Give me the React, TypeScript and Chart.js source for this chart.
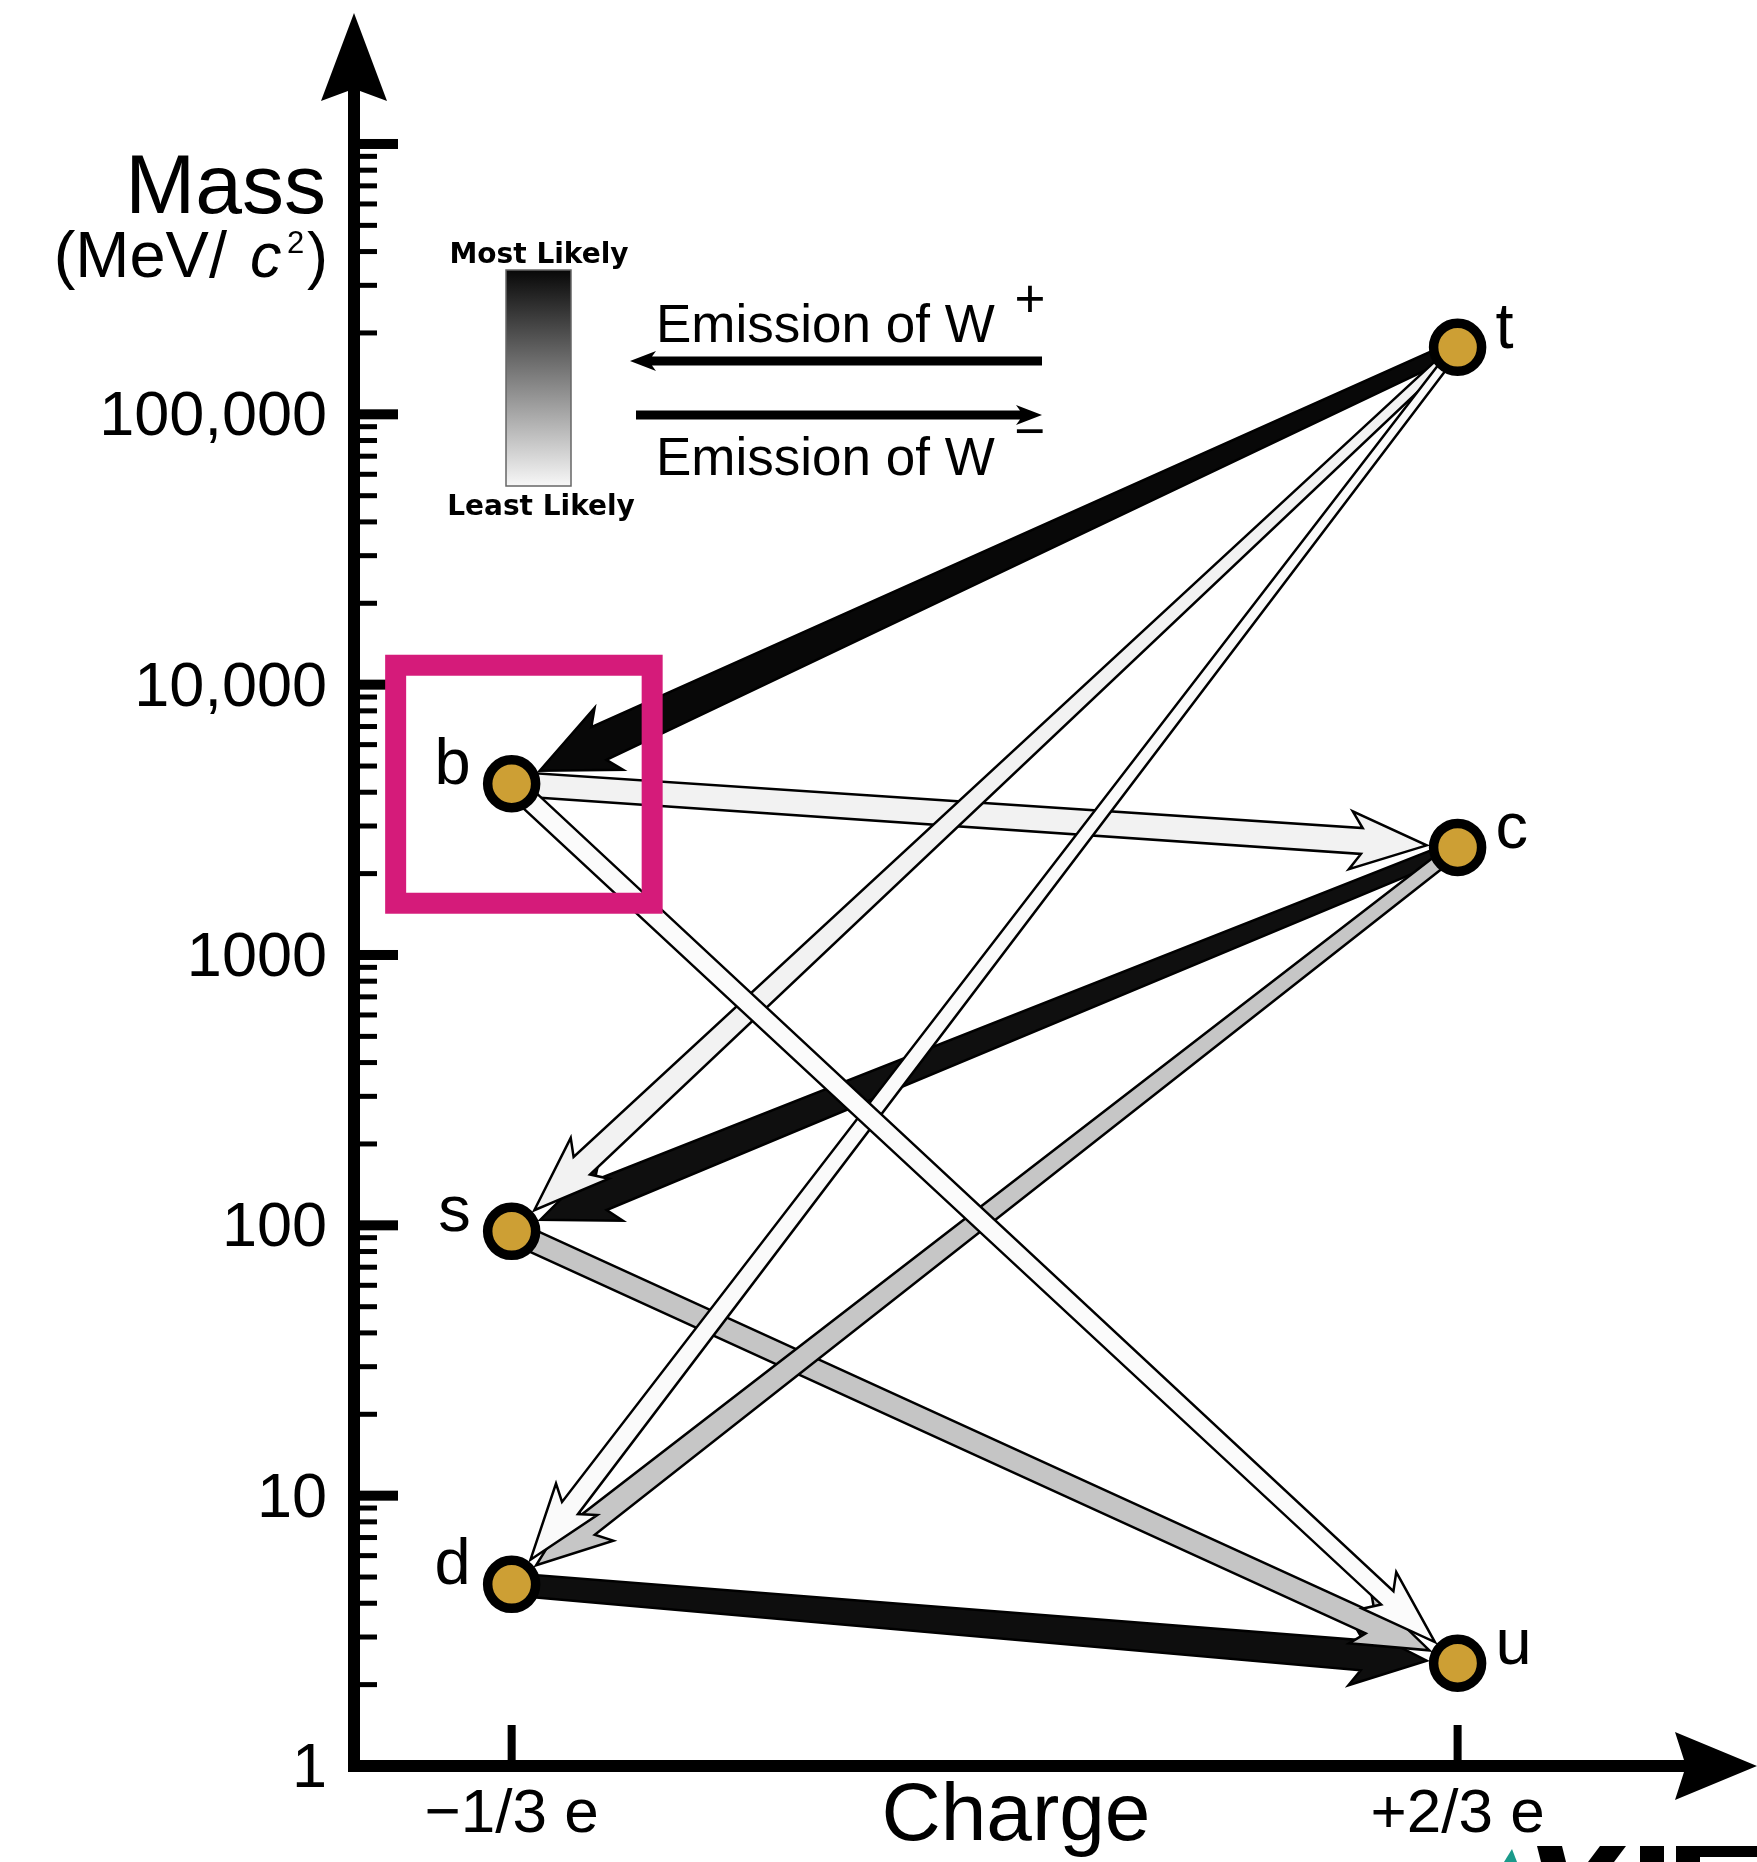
import React, { useEffect, useRef } from 'react';
import { Chart, registerables } from 'chart.js';

Chart.register(...registerables);

// ---------------- data ----------------
const QUARK_NAMES = ['u', 'd', 'c', 's', 't', 'b'];
const QUARK_CHARGE = [2 / 3, -1 / 3, 2 / 3, -1 / 3, 2 / 3, -1 / 3];
const QUARK_MASS = [2.4, 4.7, 2500, 95, 177000, 4300]; // MeV/c^2 as placed in the picture

// weak transitions (arrow from -> to) and their likelihood (|V_CKM|, drawn as grey level)
const TRANSITION_FROM = ['t', 't', 't', 'c', 'c', 'd', 's', 'b', 'b'];
const TRANSITION_TO = ['b', 's', 'd', 's', 'd', 'u', 'u', 'u', 'c'];
const TRANSITION_LIKELIHOOD = [0.999, 0.04, 0.0086, 0.973, 0.22, 0.974, 0.225, 0.0037, 0.041];

const Y_TICK_VALUES = [1, 10, 100, 1000, 10000, 100000];
const Y_TICK_LABELS = ['1', '10', '100', '1000', '10,000', '100,000'];
const Y_MAJOR_TICKS = [1, 10, 100, 1000, 10000, 100000, 1000000];
const X_TICK_VALUES = [-1 / 3, 2 / 3];
const X_TICK_LABELS = ['\u22121/3 e', '+2/3 e'];

const X_MIN = -0.5;
const X_MAX = 0.98;
const Y_MIN = 1;
const Y_MAX = 3e6;

// ---------------- styling ----------------
const ARROW_W_START = [14, 10, 9, 14, 14, 22, 22, 20, 24];
const ARROW_W_END = [36, 24, 20, 32, 24, 30, 22, 18, 26];
const FONT = '"Liberation Sans", Arial, Helvetica, sans-serif';
const GOLD = '#CD9F34';
const MAGENTA = '#D51B7A';

const greyFor = (p: number) => {
  const v = Math.round(252 - 244 * p);
  return `rgb(${v},${v},${v})`;
};

function drawFatArrow(
  ctx: CanvasRenderingContext2D,
  x0: number, y0: number, x1: number, y1: number,
  w0: number, w1: number, fill: string
) {
  const dx = x1 - x0, dy = y1 - y0;
  const len = Math.hypot(dx, dy);
  const ux = dx / len, uy = dy / len;
  const nx = -uy, ny = ux;
  const tipOff = 31, L = 76, notch = 65, H = w1 / 2 + 16;
  const tx = x1 - ux * tipOff, ty = y1 - uy * tipOff;
  const bx = tx - ux * L, by = ty - uy * L;
  const cx = tx - ux * notch, cy = ty - uy * notch;
  ctx.beginPath();
  ctx.moveTo(x0 + nx * w0 / 2, y0 + ny * w0 / 2);
  ctx.lineTo(cx + nx * w1 / 2, cy + ny * w1 / 2);
  ctx.lineTo(bx + nx * H, by + ny * H);
  ctx.lineTo(tx, ty);
  ctx.lineTo(bx - nx * H, by - ny * H);
  ctx.lineTo(cx - nx * w1 / 2, cy - ny * w1 / 2);
  ctx.lineTo(x0 - nx * w0 / 2, y0 - ny * w0 / 2);
  ctx.closePath();
  ctx.fillStyle = fill;
  ctx.fill();
  ctx.lineWidth = 2.5;
  ctx.lineJoin = 'miter';
  ctx.strokeStyle = '#000';
  ctx.stroke();
}

function drawLegendArrow(ctx: CanvasRenderingContext2D, xStart: number, xTip: number, yc: number, t: number) {
  const dir = xTip > xStart ? 1 : -1;
  ctx.beginPath();
  ctx.moveTo(xStart, yc - t / 2);
  ctx.lineTo(xTip - dir * 22, yc - t / 2);
  ctx.lineTo(xTip - dir * 26, yc - 10);
  ctx.lineTo(xTip, yc);
  ctx.lineTo(xTip - dir * 26, yc + 10);
  ctx.lineTo(xTip - dir * 22, yc + t / 2);
  ctx.lineTo(xStart, yc + t / 2);
  ctx.closePath();
  ctx.fillStyle = '#000';
  ctx.fill();
}

const quarkPixel = (chart: any, name: string) => {
  const i = QUARK_NAMES.indexOf(name);
  return {
    x: chart.scales.x.getPixelForValue(QUARK_CHARGE[i]),
    y: chart.scales.y.getPixelForValue(QUARK_MASS[i]),
  };
};

const diagramPlugin = {
  id: 'quarkDiagram',
  beforeDraw(chart: any) {
    const ctx = chart.ctx;
    ctx.save();
    ctx.fillStyle = '#fff';
    ctx.fillRect(0, 0, chart.width, chart.height);
    ctx.restore();
  },
  beforeDatasetsDraw(chart: any) {
    const ctx: CanvasRenderingContext2D = chart.ctx;
    const xs = chart.scales.x, ys = chart.scales.y;
    const ax = xs.getPixelForValue(X_MIN);
    const ay = ys.getPixelForValue(Y_MIN);
    const top = ys.getPixelForValue(Y_MAX);
    const right = xs.getPixelForValue(X_MAX);
    ctx.save();
    ctx.fillStyle = '#000';

    // y axis
    ctx.fillRect(ax - 6, top + 74, 12, ay + 6 - (top + 74));
    ctx.beginPath();
    ctx.moveTo(ax, top - 2);
    ctx.lineTo(ax + 33, top + 86);
    ctx.lineTo(ax + 6, top + 76);
    ctx.lineTo(ax - 6, top + 76);
    ctx.lineTo(ax - 33, top + 86);
    ctx.closePath();
    ctx.fill();

    // x axis
    ctx.fillRect(ax - 6, ay - 6, right - 68 - (ax - 6), 12);
    ctx.beginPath();
    ctx.moveTo(right + 3, ay);
    ctx.lineTo(right - 79, ay + 34);
    ctx.lineTo(right - 70, ay + 6);
    ctx.lineTo(right - 70, ay - 6);
    ctx.lineTo(right - 79, ay - 34);
    ctx.closePath();
    ctx.fill();

    // y ticks (major + minor), drawn inwards
    Y_MAJOR_TICKS.forEach((v) => {
      const py = ys.getPixelForValue(v);
      ctx.fillRect(ax, py - 5, 44, 10);
    });
    for (let k = 0; k < 6; k++) {
      for (let m = 2; m <= 9; m++) {
        const py = ys.getPixelForValue(m * Math.pow(10, k));
        ctx.fillRect(ax, py - 2.5, 23, 5);
      }
    }
    // y tick labels
    ctx.font = `63px ${FONT}`;
    ctx.textAlign = 'right';
    ctx.textBaseline = 'alphabetic';
    Y_TICK_VALUES.forEach((v, i) => {
      const py = ys.getPixelForValue(v);
      ctx.fillText(Y_TICK_LABELS[i], ax - 27, py + 21);
    });

    // x ticks + labels
    ctx.font = `62px ${FONT}`;
    ctx.textAlign = 'center';
    X_TICK_VALUES.forEach((v, i) => {
      const px = xs.getPixelForValue(v);
      ctx.fillRect(px - 4, ay - 41, 8, 41);
      ctx.fillText(X_TICK_LABELS[i], px, ay + 66);
    });

    // axis titles
    ctx.font = `82px ${FONT}`;
    ctx.textAlign = 'center';
    ctx.fillText('Charge', 1016, ay + 74);

    ctx.font = `84px ${FONT}`;
    ctx.textAlign = 'right';
    ctx.fillText('Mass', 326, 213);
    ctx.font = `65px ${FONT}`;
    ctx.fillText('(MeV/', 227, 277);
    ctx.font = `63px ${FONT}`;
    ctx.fillText(')', 328, 277);
    ctx.textAlign = 'left';
    ctx.font = `italic 63px ${FONT}`;
    ctx.fillText('c', 250, 277);
    ctx.font = `31px ${FONT}`;
    ctx.fillText('2', 287, 253);

    // legend: gradient bar
    const g = ctx.createLinearGradient(0, 270, 0, 486);
    g.addColorStop(0, greyFor(1));
    g.addColorStop(1, greyFor(0.02));
    ctx.fillStyle = g;
    ctx.fillRect(506, 270, 65, 216);
    ctx.strokeStyle = '#666';
    ctx.lineWidth = 1.5;
    ctx.strokeRect(506, 270, 65, 216);
    ctx.fillStyle = '#000';
    ctx.font = `bold 28px "DejaVu Sans", ${FONT}`;
    ctx.textAlign = 'center';
    ctx.fillText('Most Likely', 539, 263);
    ctx.fillText('Least Likely', 541, 515);

    // legend: emission arrows
    ctx.font = `53px ${FONT}`;
    ctx.textAlign = 'left';
    ctx.fillText('Emission of W', 656, 342);
    ctx.fillText('Emission of W', 656, 475);
    ctx.textAlign = 'center';
    ctx.fillText('+', 1030, 317);
    ctx.fillText('\u2212', 1030, 449);
    drawLegendArrow(ctx, 1042, 630, 361, 9);
    drawLegendArrow(ctx, 636, 1042, 415, 9);

    // transition arrows (most likely drawn first)
    const order = TRANSITION_LIKELIHOOD.map((_, i) => i).sort(
      (a, b) => TRANSITION_LIKELIHOOD[b] - TRANSITION_LIKELIHOOD[a]
    );
    order.forEach((i) => {
      const p0 = quarkPixel(chart, TRANSITION_FROM[i]);
      const p1 = quarkPixel(chart, TRANSITION_TO[i]);
      drawFatArrow(ctx, p0.x, p0.y, p1.x, p1.y, ARROW_W_START[i], ARROW_W_END[i], greyFor(TRANSITION_LIKELIHOOD[i]));
    });
    ctx.restore();
  },
  afterDatasetsDraw(chart: any) {
    const ctx: CanvasRenderingContext2D = chart.ctx;
    ctx.save();
    ctx.fillStyle = '#000';
    ctx.font = `65px ${FONT}`;
    ctx.textBaseline = 'alphabetic';
    QUARK_NAMES.forEach((name, i) => {
      const p = quarkPixel(chart, name);
      if (QUARK_CHARGE[i] > 0) {
        ctx.textAlign = 'left';
        ctx.fillText(name, p.x + 38, p.y + 1);
      } else {
        ctx.textAlign = 'right';
        ctx.fillText(name, p.x - 41, p.y);
      }
    });

    // highlight box around b
    const b = quarkPixel(chart, 'b');
    ctx.strokeStyle = MAGENTA;
    ctx.lineWidth = 21;
    ctx.strokeRect(b.x - 116, b.y - 118.5, 256.5, 238);

    // cropped watermark at bottom-right corner
    const H = chart.height;
    ctx.fillStyle = '#1a9a8a';
    ctx.beginPath();
    ctx.moveTo(1504, H);
    ctx.lineTo(1512, H - 13);
    ctx.lineTo(1517, H);
    ctx.closePath();
    ctx.fill();
    ctx.fillStyle = '#000';
    ctx.beginPath();
    ctx.moveTo(1537, H - 16);
    ctx.lineTo(1562, H - 16);
    ctx.lineTo(1566, H);
    ctx.lineTo(1541, H);
    ctx.closePath();
    ctx.fill();
    ctx.beginPath();
    ctx.moveTo(1600, H - 16);
    ctx.lineTo(1626, H - 16);
    ctx.lineTo(1614, H);
    ctx.lineTo(1588, H);
    ctx.closePath();
    ctx.fill();
    ctx.fillRect(1640, H - 16, 24, 16);
    ctx.fillRect(1676, H - 16, 81, 11);
    ctx.fillRect(1676, H - 5, 24, 5);
    ctx.restore();
  },
};

export default function App() {
  const ref = useRef<HTMLCanvasElement>(null);
  useEffect(() => {
    if (!ref.current) return;
    const chart = new Chart(ref.current, {
      type: 'scatter',
      data: {
        datasets: [
          {
            label: 'Quarks',
            data: QUARK_NAMES.map((_, i) => ({ x: QUARK_CHARGE[i], y: QUARK_MASS[i] })),
            pointRadius: 24,
            pointHoverRadius: 24,
            pointBorderWidth: 9.5,
            pointHoverBorderWidth: 9.5,
            pointBackgroundColor: GOLD,
            pointBorderColor: '#000',
            showLine: false,
            clip: false as any,
          },
        ],
      },
      options: {
        responsive: false,
        animation: false,
        devicePixelRatio: 1,
        events: [],
        layout: { autoPadding: false, padding: { left: 354, right: 3, top: 15, bottom: 96 } } as any,
        scales: {
          x: { type: 'linear', bounds: 'data', min: X_MIN, max: X_MAX, display: false },
          y: { type: 'logarithmic', bounds: 'data', min: Y_MIN, max: Y_MAX, display: false },
        },
        plugins: {
          legend: { display: false },
          tooltip: { enabled: false },
        },
      },
      plugins: [diagramPlugin],
    });
    return () => chart.destroy();
  }, []);
  return (
    <div style={{ position: 'absolute', left: 0, top: 0, width: 1757, height: 1862, background: '#fff' }}>
      <canvas ref={ref} width={1757} height={1862} style={{ display: 'block', width: 1757, height: 1862 }} />
    </div>
  );
}
